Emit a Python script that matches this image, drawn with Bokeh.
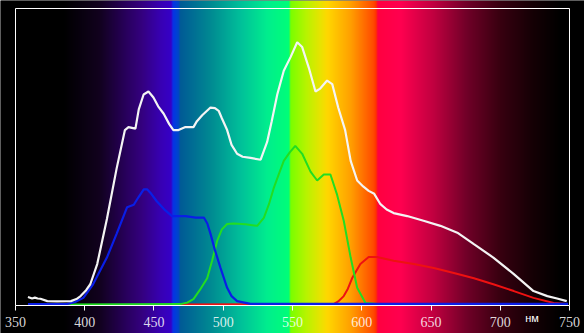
import numpy as np
from bokeh.plotting import figure
from bokeh.models import Range1d, LinearAxis, FixedTicker, Label
from bokeh.embed import file_html
from bokeh.resources import INLINE

# ---- data (wavelength in nm, relative intensity 0..100) ----
white_nm = [359, 362, 364, 366, 368, 373, 380, 390, 394, 397, 401, 404, 409, 416, 423,
            429, 431.6, 436.6, 439, 442.5, 446, 449.6, 453, 457, 461, 464, 467.7,
            472.7, 478.5, 481, 484.8, 490.8, 494, 496.7, 499, 502.8, 506, 510, 514,
            519.7, 527, 531.7, 535, 539, 543.7, 548.6, 553.4, 557, 561.8, 566.6,
            570, 575, 578.7, 583, 588, 592, 596.7, 601, 605, 609, 613.5, 618, 623,
            632.8, 644.6, 656.8, 669, 680.7, 695, 709.6, 724, 734, 741, 748]
white_val = [2.7, 2.2, 2.5, 2.2, 2.1, 1.3, 1.2, 1.3, 2.0, 3, 5, 7, 13.8, 29, 46,
             59, 60, 59.5, 66, 71, 72, 70, 67, 64.5, 61, 59, 59,
             60, 60, 62, 64, 66.6, 66.4, 65.5, 63, 59, 54, 51, 50,
             49.6, 49, 55, 62, 71, 79, 83.6, 88.6, 87, 80, 72,
             73, 75.7, 74.5, 66.6, 59, 48.6, 42, 40, 38.5, 37.5, 34, 32.2, 31,
             30, 28.4, 26.7, 24.4, 20.6, 16, 10.5, 4.7, 3, 2.2, 1.3]

blue_nm = [359, 387, 393, 399, 406, 416, 423, 430.6, 435.4, 439, 442.6, 445, 448,
           452, 458, 463, 472.7, 480, 486, 488.5, 490.8, 494, 498, 502.8, 506, 510,
           519.7, 600, 700, 749]
blue_val = [0.3, 0.3, 1.0, 2.4, 7, 16, 24, 33, 33.8, 36.5, 39, 39, 37.5,
            35, 32, 30, 30, 29.5, 29.5, 27.5, 24, 18.5, 12.5, 5.8, 3, 1.3,
            0.4, 0.4, 0.4, 0.4]

green_nm = [383, 469, 474, 478.5, 483, 488.4, 492, 495.6, 499, 502.8, 507.6, 516,
            524.5, 529.3, 533, 536.5, 540, 543.7, 548, 552, 557, 563, 567.8, 572.6,
            577.4, 582, 587, 592, 596.7, 602.7, 611, 716]
green_val = [0.2, 0.3, 0.8, 2, 5, 9, 15, 21.6, 25.5, 27.3, 27.5, 27.2,
             26.7, 29.4, 34, 39.5, 44, 48.6, 51.5, 53.7, 51, 45, 42, 44,
             44, 37.5, 28.4, 16, 5.8, 0.7, 0.3, 0.3]

red_nm = [465, 579.7, 583, 587, 590, 593, 599, 605, 611, 623, 637.6, 652, 666.5,
          681, 695, 709.8, 724, 738.6, 748]
red_val = [0.2, 0.3, 1.2, 3, 5.5, 9, 13.8, 16.2, 16.2, 14.9, 13.8, 12.5, 10.8,
           9, 7, 4.7, 2.4, 0.7, 0.3]

tick_values = [350, 400, 450, 500, 550, 600, 650, 700, 750]
tick_labels = ["350", "400", "450", "500", "550", "600", "650", "700", "750"]
unit_label = "нм"

# ---- background spectrum colour stops (style) ----
stops_nm = [330, 384, 411, 431, 441, 455, 462.8, 463.2, 466, 468.2, 468.8, 491, 512.5,
            532, 547.8, 548.4, 560, 570, 575, 592, 608.5, 610.6, 611.4, 628, 652,
            676, 700, 724, 744, 770]
stops_hex = ["#000000", "#000000", "#12021f", "#2a0060", "#34007e", "#3800b4",
             "#3600c8", "#0c2ee8", "#0040d8", "#0048c0", "#005a96", "#008a92",
             "#00c09a", "#00ee8e", "#00ff78", "#78ff00", "#b8f400", "#e8e400",
             "#ffd800", "#ffa000", "#ff4a00", "#ff3000", "#ff0040", "#ff0050",
             "#c00040", "#700028", "#380010", "#150005", "#000000", "#000000"]

x0, x1 = 339.17, 760.83
y0, y1 = -9.61, 102.70

p = figure(width=584, height=333, output_backend="svg", toolbar_location=None,
           x_range=Range1d(x0, x1), y_range=Range1d(y0, y1),
           x_axis_type=None, y_axis_type=None, min_border=0)
p.outline_line_color = None
p.background_fill_color = "black"
p.border_fill_color = "black"

ncols = 584
centers = x0 + (np.arange(ncols) + 0.5) * (x1 - x0) / ncols
rgb = np.array([[int(h[i:i + 2], 16) for i in (1, 3, 5)] for h in stops_hex], dtype=float)
img = np.empty((1, ncols), dtype=np.uint32)
view = img.view(dtype=np.uint8).reshape((1, ncols, 4))
for c in range(3):
    view[0, :, c] = np.clip(np.interp(centers, stops_nm, rgb[:, c]), 0, 255).astype(np.uint8)
view[0, :, 3] = 255
p.image_rgba(image=[img], x=x0, y=y0, dw=x1 - x0, dh=y1 - y0)

# curves
p.line(red_nm, red_val, line_color="#ee1111", line_width=2)
p.line(green_nm, green_val, line_color="#22dd22", line_width=2)
p.line(blue_nm, blue_val, line_color="#0a1ee6", line_width=2.2)
p.line(white_nm, white_val, line_color="#f4f4f4", line_width=2.2)

# axes
xaxis = LinearAxis(fixed_location=0, bounds=(350, 750),
                   ticker=FixedTicker(ticks=tick_values),
                   major_label_overrides={v: s for v, s in zip(tick_values, tick_labels)})
xaxis.axis_line_color = "white"
xaxis.axis_line_width = 1
xaxis.major_tick_line_color = "white"
xaxis.major_tick_in = 0
xaxis.major_tick_out = 5
xaxis.minor_tick_line_color = None
xaxis.major_label_text_color = "white"
xaxis.major_label_text_alpha = 0.85
xaxis.major_label_text_font = "Liberation Sans Narrow"
xaxis.major_label_text_font_size = "14px"
xaxis.major_label_standoff = 7
p.add_layout(xaxis, "below")

for side, loc, bnds in [("above", 100, (350, 750)), ("left", 350, (0, 100)),
                        ("right", 750, (0, 100))]:
    ax = LinearAxis(fixed_location=loc, bounds=bnds, ticker=FixedTicker(ticks=[]))
    ax.axis_line_color = "white"
    ax.axis_line_width = 1
    ax.major_tick_line_color = None
    ax.minor_tick_line_color = None
    ax.major_label_text_font_size = "0px"
    p.add_layout(ax, side)

p.add_layout(Label(x=723, y=-4.3, text=unit_label, text_color="white",
                   text_font_size="11px", text_font="Liberation Sans",
                   text_align="center", text_baseline="middle"))

open("out.html", "w").write(file_html(p, INLINE))
